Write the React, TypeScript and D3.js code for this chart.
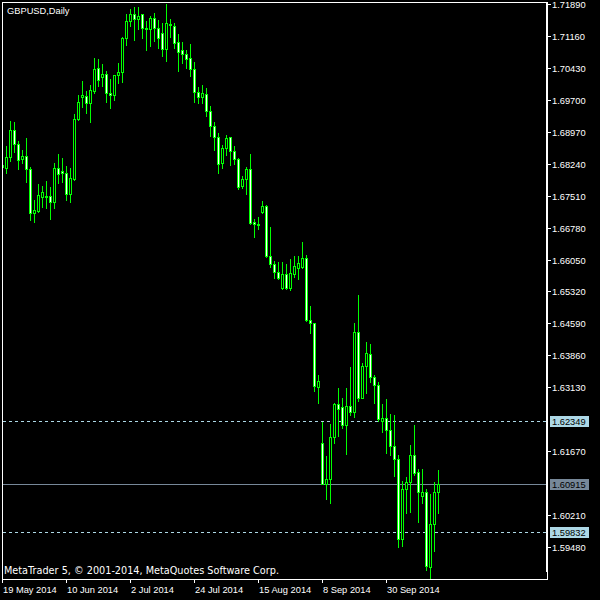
import React from "react";
import * as d3 from "d3";

const symbolTitle = "GBPUSD,Daily";
const watermark = "MetaTrader 5, \u00A9 2001-2014, MetaQuotes Software Corp.";
const firstDate = "2014-05-19";
const barCount = 110;

const open = [
  1.68210, 1.68135, 1.68386, 1.69010, 1.68690, 1.68340, 1.68416, 1.68112, 1.67106, 1.67165,
  1.67472, 1.67472, 1.67501, 1.67357, 1.68135, 1.68080, 1.68020, 1.67540, 1.67890, 1.69255,
  1.69757, 1.69794, 1.69620, 1.69908, 1.70420, 1.70215, 1.70290, 1.69849, 1.69817, 1.70267,
  1.70343, 1.71106, 1.71495, 1.71655, 1.71540, 1.71655, 1.71335, 1.71312, 1.71563, 1.71335,
  1.71220, 1.70855, 1.71433, 1.71387, 1.71015, 1.70839, 1.70740, 1.70649, 1.70397, 1.69872,
  1.69771, 1.69826, 1.69444, 1.69108, 1.68843, 1.68249, 1.68592, 1.68843, 1.68530, 1.68340,
  1.67737, 1.67890, 1.68112, 1.66900, 1.66855, 1.67143, 1.67273, 1.66137, 1.65947, 1.65771,
  1.65405, 1.65712, 1.65405, 1.65719, 1.65863, 1.65885, 1.66077, 1.64667, 1.64592, 1.63143,
  1.61849, 1.60925, 1.61026, 1.62000, 1.62747, 1.62685, 1.62267, 1.62701, 1.62571, 1.64386,
  1.62891, 1.63616, 1.63883, 1.63357, 1.63181, 1.62365, 1.62420, 1.62153, 1.61794, 1.61483,
  1.59655, 1.60797, 1.60957, 1.61581, 1.61186, 1.60651, 1.60729, 1.59028, 1.59997, 1.60729,
];
const high = [
  1.68256, 1.68644, 1.69216, 1.69186, 1.68759, 1.68553, 1.68827, 1.68171, 1.67410, 1.67776,
  1.67730, 1.67844, 1.67700, 1.68249, 1.68461, 1.68363, 1.68187, 1.68135, 1.69376, 1.69810,
  1.70130, 1.69908, 1.70039, 1.70649, 1.70626, 1.70519, 1.70365, 1.70176, 1.70267, 1.70535,
  1.71129, 1.71661, 1.71776, 1.71821, 1.71815, 1.71661, 1.71501, 1.71616, 1.71677, 1.71524,
  1.71449, 1.71890, 1.71547, 1.71449, 1.71204, 1.71028, 1.70839, 1.70976, 1.70564, 1.69986,
  1.70039, 1.69963, 1.69559, 1.69186, 1.68935, 1.68667, 1.68896, 1.68857, 1.68644, 1.68363,
  1.67959, 1.68171, 1.68461, 1.66976, 1.67028, 1.67387, 1.67296, 1.66800, 1.66016, 1.65986,
  1.65986, 1.65947, 1.66061, 1.66137, 1.66137, 1.66450, 1.66153, 1.64994, 1.64600, 1.63410,
  1.62343, 1.61559, 1.62283, 1.62777, 1.63106, 1.62877, 1.63106, 1.63600, 1.64592, 1.65239,
  1.63691, 1.64157, 1.64112, 1.63410, 1.63257, 1.62747, 1.62861, 1.62519, 1.62496, 1.61581,
  1.60987, 1.61085, 1.61810, 1.62267, 1.61255, 1.61255, 1.60804, 1.60690, 1.60957, 1.61239,
];
const low = [
  1.68141, 1.68020, 1.68308, 1.68514, 1.68125, 1.68249, 1.67828, 1.66953, 1.66914, 1.67129,
  1.67243, 1.67220, 1.66976, 1.67220, 1.67805, 1.67828, 1.67410, 1.67371, 1.67867, 1.69239,
  1.69543, 1.69392, 1.69200, 1.69849, 1.70016, 1.70023, 1.69657, 1.69520, 1.69696, 1.70077,
  1.70100, 1.70953, 1.71387, 1.71067, 1.71312, 1.71106, 1.70839, 1.70930, 1.71051, 1.70891,
  1.70708, 1.70587, 1.71143, 1.70877, 1.70365, 1.70535, 1.70420, 1.70244, 1.69657, 1.69620,
  1.69620, 1.69337, 1.68873, 1.68553, 1.68034, 1.68135, 1.68439, 1.68210, 1.68233, 1.67661,
  1.67691, 1.67547, 1.66861, 1.66571, 1.66747, 1.67120, 1.66100, 1.65885, 1.65634, 1.65597,
  1.65376, 1.65376, 1.65353, 1.65657, 1.65604, 1.65849, 1.64644, 1.64377, 1.63044, 1.62777,
  1.60912, 1.60569, 1.60491, 1.61849, 1.62016, 1.62192, 1.61597, 1.62496, 1.62457, 1.62823,
  1.62877, 1.63005, 1.63257, 1.62763, 1.62359, 1.62114, 1.61634, 1.61581, 1.61108, 1.59485,
  1.59508, 1.60249, 1.60285, 1.61124, 1.60057, 1.60491, 1.58947, 1.58747, 1.59394, 1.60263,
];
const close = [
  1.68176, 1.68386, 1.69010, 1.68690, 1.68324, 1.68416, 1.68112, 1.67106, 1.67181, 1.67524,
  1.67600, 1.67501, 1.67357, 1.68135, 1.67997, 1.68020, 1.67540, 1.67906, 1.69261, 1.69643,
  1.69810, 1.69620, 1.69924, 1.70404, 1.70153, 1.70283, 1.69849, 1.69817, 1.70260, 1.70329,
  1.71106, 1.71495, 1.71655, 1.71540, 1.71616, 1.71335, 1.71312, 1.71563, 1.71335, 1.71106,
  1.70855, 1.71449, 1.71403, 1.71005, 1.70786, 1.70740, 1.70640, 1.70397, 1.69872, 1.69757,
  1.69849, 1.69444, 1.69108, 1.68843, 1.68226, 1.68592, 1.68834, 1.68530, 1.68340, 1.67700,
  1.67890, 1.68112, 1.66891, 1.66855, 1.66845, 1.67273, 1.66137, 1.65940, 1.65771, 1.65634,
  1.65712, 1.65405, 1.65735, 1.65901, 1.65963, 1.66077, 1.64667, 1.64592, 1.63159, 1.63273,
  1.60925, 1.61026, 1.62000, 1.62747, 1.62626, 1.62267, 1.62701, 1.62571, 1.64386, 1.62877,
  1.63616, 1.63906, 1.63357, 1.63181, 1.62397, 1.62420, 1.62153, 1.61794, 1.61483, 1.59655,
  1.60797, 1.60957, 1.61581, 1.61177, 1.60743, 1.60729, 1.59044, 1.60004, 1.60729, 1.60915,
];

const priceTicks = [
  1.71890, 1.71160, 1.70430, 1.69700, 1.68970, 1.68240, 1.67510, 1.66780, 1.66050,
  1.65320, 1.64590, 1.63860, 1.63130, 1.61670, 1.60210, 1.59480,
];
const levelLines = [1.62349, 1.59832];
const bidPrice = 1.60915;
const dateTickEvery = 16;

// trading-day categories (weekdays) starting at firstDate
const dates: Date[] = (() => {
  const out: Date[] = [];
  const d = new Date(firstDate + "T00:00:00Z");
  while (out.length < barCount) {
    const wd = d.getUTCDay();
    if (wd !== 0 && wd !== 6) out.push(new Date(d.getTime()));
    d.setUTCDate(d.getUTCDate() + 1);
  }
  return out;
})();
const fmtDate = d3.utcFormat("%-d %b %Y");
const dateKeys = dates.map((d) => d.toISOString().slice(0, 10));

const FONT = "'Liberation Sans', Arial, sans-serif";
const GREEN = "#00ff00";

export default function App() {
  const L = 2, R = 547, T = 2, B = 579;
  const x = d3.scalePoint<string>().domain(dateKeys).range([2.5, 438.5]);
  const y = d3.scaleLinear().domain([1.5948, 1.7189]).range([547, 4]);
  const ry = (v: number) => Math.round(y(v));

  const candles = dateKeys.map((k, i) => {
    const cx = x(k) as number;
    const o = open[i], c = close[i], h = high[i], l = low[i];
    const bear = c < o;
    const top = ry(Math.max(o, c));
    const bot = ry(Math.min(o, c));
    return (
      <g key={k}>
        <line x1={cx} x2={cx} y1={ry(h)} y2={ry(l) + 1} stroke={GREEN} strokeWidth={1} />
        {bot - top < 1 ? (
          <line x1={cx - 1.5} x2={cx + 1.5} y1={top + 0.5} y2={top + 0.5} stroke={GREEN} strokeWidth={1} />
        ) : (
          <rect x={cx - 1} y={top + 0.5} width={2} height={bot - top} fill={bear ? "#ffffff" : "#000000"} stroke={GREEN} strokeWidth={1} />
        )}
      </g>
    );
  });

  return (
    <svg width={600} height={600} style={{ position: "absolute", left: 0, top: 0, display: "block" }} fontFamily={FONT}>
      <defs>
        <clipPath id="plot">
          <rect x={L + 1} y={T + 1} width={R - L - 1} height={B - T - 1} />
        </clipPath>
      </defs>
      <rect x={0} y={0} width={600} height={600} fill="#000" />

      {/* level lines */}
      {levelLines.map((v) => (
        <line key={v} x1={L + 1} x2={R - 1} y1={ry(v) + 0.5} y2={ry(v) + 0.5} stroke="#add8e6" strokeDasharray="3,3" strokeWidth={1} />
      ))}
      <line x1={L + 1} x2={R} y1={ry(bidPrice) + 0.5} y2={ry(bidPrice) + 0.5} stroke="#778899" strokeWidth={1} />

      <g clipPath="url(#plot)">{candles}</g>

      {/* frame */}
      <rect x={L + 0.5} y={T + 0.5} width={R - L} height={B - T} fill="none" stroke="#fff" strokeWidth={1} />
      <line x1={R - 0.5} x2={R - 0.5} y1={T + 1} y2={572} stroke="#fff" strokeWidth={1} />

      {/* price axis */}
      {priceTicks.map((v) => (
        <g key={v}>
          <line x1={R + 1} x2={R + 4} y1={ry(v) + 0.5} y2={ry(v) + 0.5} stroke="#fff" />
          <text x={552} y={ry(v) + 0.5} dominantBaseline="central" fontSize={9.3} fill="#fff">
            {v.toFixed(5)}
          </text>
        </g>
      ))}
      {[...levelLines.map((v) => ({ v, bg: "#add8e6" })), { v: bidPrice, bg: "#778899" }].map(({ v, bg }) => (
        <g key={"lab" + v}>
          <rect x={550} y={ry(v) - 5} width={39} height={11} fill={bg} />
          <text x={552} y={ry(v) + 0.5} dominantBaseline="central" fontSize={9.3} fill="#000">
            {v.toFixed(5)}
          </text>
        </g>
      ))}

      {/* date axis */}
      {dateKeys.map((k, i) =>
        i % dateTickEvery === 0 ? (
          <g key={"t" + k}>
            <line x1={Math.floor(x(k) as number) + 0.5} x2={Math.floor(x(k) as number) + 0.5} y1={B} y2={B + 4} stroke="#fff" />
            <text x={Math.floor(x(k) as number) + 1} y={592.5} fontSize={9.3} fill="#fff">
              {fmtDate(dates[i])}
            </text>
          </g>
        ) : null
      )}

      <text x={7} y={14} fontSize={9.3} fill="#fff">{symbolTitle}</text>
      <text x={4} y={574} fontSize={9.7} fontFamily="'DejaVu Sans', sans-serif" fill="#fff">{watermark}</text>
    </svg>
  );
}
